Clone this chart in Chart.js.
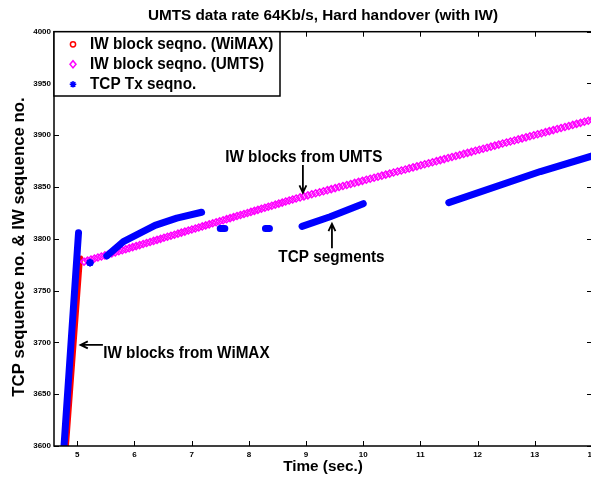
<!DOCTYPE html>
<html><head><meta charset="utf-8">
<script src="https://cdn.jsdelivr.net/npm/chart.js@4/dist/chart.umd.min.js"></script>
<style>
html,body{margin:0;padding:0;background:#fff;overflow:hidden;}
#wrap{position:relative;width:593px;height:480px;}
</style></head><body>
<div id="wrap"><canvas id="c"></canvas></div>
<script>
// ---------- texts ----------
const chartTitle = 'UMTS data rate 64Kb/s, Hard handover (with IW)';
const xAxisTitle = 'Time (sec.)';
const yAxisTitle = 'TCP sequence no. & IW sequence no.';
const seriesNames = ['IW block seqno. (WiMAX)', 'IW block seqno. (UMTS)', 'TCP Tx seqno.'];
const noteTexts = ['IW blocks from UMTS', 'TCP segments', 'IW blocks from WiMAX'];

// ---------- axes ----------
const xTicks = [5, 6, 7, 8, 9, 10, 11, 12, 13, 14];
const yTicks = [3600, 3650, 3700, 3750, 3800, 3850, 3900, 3950, 4000];
const xRange = [4.593, 14];
const yRange = [3600, 4000];

// ---------- data ----------
// IW blocks over WiMAX (dense circle markers -> drawn as a thick line)
const wimaxTime = [4.820, 5.065];
const wimaxSeq = [3600, 3782];

// IW blocks over UMTS (one diamond per block)
const umtsTime = [
  5.118,5.179,5.240,5.300,5.361,5.422,5.483,5.544,5.604,5.665,
  5.726,5.787,5.848,5.908,5.969,6.030,6.091,6.152,6.212,6.273,
  6.334,6.395,6.456,6.516,6.577,6.638,6.699,6.760,6.820,6.881,
  6.942,7.003,7.064,7.124,7.185,7.246,7.307,7.368,7.428,7.489,
  7.550,7.611,7.672,7.732,7.793,7.854,7.915,7.976,8.036,8.097,
  8.158,8.219,8.280,8.340,8.401,8.462,8.523,8.584,8.644,8.705,
  8.766,8.827,
  8.896,8.964,9.032,9.100,9.168,9.237,9.305,9.373,9.441,9.509,
  9.577,9.645,9.713,9.781,9.849,9.918,9.986,10.054,10.122,10.190,
  10.258,10.326,10.394,10.462,10.530,10.599,10.667,10.735,10.803,10.871,
  10.939,11.007,11.075,11.143,11.211,11.280,11.348,11.416,11.484,11.552,
  11.620,11.688,11.756,11.824,11.892,11.961,12.029,12.097,12.165,12.233,
  12.301,12.369,12.437,12.505,12.573,12.642,12.710,12.778,12.846,12.914,
  12.982,13.050,13.118,13.186,13.254,13.323,13.391,13.459,13.527,13.595,
  13.663,13.731,13.799,13.867,13.935,14.004
];
const umtsSeq = [
  3778,3779,3780,3781,3782,3783,3784,3785,3786,3787,
  3788,3789,3790,3791,3792,3793,3794,3795,3796,3797,
  3798,3799,3800,3801,3802,3803,3804,3805,3806,3807,
  3808,3809,3810,3811,3812,3813,3814,3815,3816,3817,
  3818,3819,3820,3821,3822,3823,3824,3825,3826,3827,
  3828,3829,3830,3831,3832,3833,3834,3835,3836,3837,
  3838,3839,
  3840,3841,3842,3843,3844,3845,3846,3847,3848,3849,
  3850,3851,3852,3853,3854,3855,3856,3857,3858,3859,
  3860,3861,3862,3863,3864,3865,3866,3867,3868,3869,
  3870,3871,3872,3873,3874,3875,3876,3877,3878,3879,
  3880,3881,3882,3883,3884,3885,3886,3887,3888,3889,
  3890,3891,3892,3893,3894,3895,3896,3897,3898,3899,
  3900,3901,3902,3903,3904,3905,3906,3907,3908,3909,
  3910,3911,3912,3913,3914,3915
];

// TCP transmitted segments (dense asterisks -> thick line runs, null = gap)
const tcpTime = [4.768, 5.022, null, 5.223, null, 5.517, 5.806, 6.360, 6.740, 7.174, null,
                 7.50, 7.58, null, 8.29, 8.36, null, 8.93, 9.422, 10.00, null, 11.496, 13.097, 14.03];
const tcpSeq  = [3600, 3806, null, 3777, null, 3783.5, 3797.3, 3813, 3820, 3825.7, null,
                 3810, 3810, null, 3810, 3810, null, 3812, 3821.4, 3834, null, 3835, 3865, 3880.5];

// ---------- annotation placement (data coordinates) ----------
const noteLayout = [
  {tx: 8.96,  ty: 3874.5, align: 'center', from: [8.945, 3871.4], to: [8.945, 3844.6]},
  {tx: 9.445, ty: 3778.0, align: 'center', from: [9.453, 3790.9], to: [9.453, 3814.4]},
  {tx: 5.453, ty: 3685.4, align: 'left',   from: [5.448, 3697.6], to: [5.058, 3697.6]}
];

const FONT = '"Liberation Sans", Arial, Helvetica, sans-serif';
const colors = ['#ff0000', '#ff00ff', '#0000ff'];
const TEXT_STRETCH = 1.12;

const toXY = (xs, ys) => xs.map((v, i) => ({x: v === null ? NaN : v, y: ys[i] === null ? NaN : ys[i]}));

function isIsolated(i) {
  const prev = i > 0 ? tcpSeq[i - 1] : null;
  const next = i < tcpSeq.length - 1 ? tcpSeq[i + 1] : null;
  return tcpSeq[i] !== null && prev === null && next === null;
}

function drawArrow(ctx, x1, y1, x2, y2) {
  const ang = Math.atan2(y2 - y1, x2 - x1);
  const hl = 8, ha = 0.45;
  ctx.beginPath();
  ctx.moveTo(x1, y1); ctx.lineTo(x2, y2);
  ctx.moveTo(x2 - hl * Math.cos(ang - ha), y2 - hl * Math.sin(ang - ha));
  ctx.lineTo(x2, y2);
  ctx.lineTo(x2 - hl * Math.cos(ang + ha), y2 - hl * Math.sin(ang + ha));
  ctx.stroke();
}

function stretchedText(ctx, text, px, py) {
  ctx.save();
  ctx.translate(px, py);
  ctx.scale(1, TEXT_STRETCH);
  ctx.fillText(text, 0, 0);
  ctx.restore();
}

const matlabFrame = {
  id: 'matlabFrame',
  afterDraw(chart) {
    const {ctx, chartArea: a, scales: {x, y}} = chart;
    ctx.save();
    // inward tick marks on all four sides
    ctx.strokeStyle = '#000';
    ctx.lineWidth = 1;
    ctx.beginPath();
    xTicks.forEach(v => {
      const p = Math.round(x.getPixelForValue(v)) + 0.5;
      ctx.moveTo(p, a.bottom); ctx.lineTo(p, a.bottom - 5);
      ctx.moveTo(p, a.top); ctx.lineTo(p, a.top + 5);
    });
    yTicks.forEach(v => {
      const p = Math.round(y.getPixelForValue(v)) + 0.5;
      ctx.moveTo(a.left, p); ctx.lineTo(a.left + 5, p);
      ctx.moveTo(a.right, p); ctx.lineTo(a.right - 5, p);
    });
    ctx.stroke();
    // box
    ctx.lineWidth = 1.5;
    ctx.strokeRect(a.left, a.top, a.right - a.left, a.bottom - a.top);

    // legend box (top-left inside axes)
    const lw = 226, lh = 64.3;
    ctx.fillStyle = '#fff';
    ctx.fillRect(a.left, a.top, lw, lh);
    ctx.strokeRect(a.left, a.top, lw, lh);
    ctx.font = 'bold 15.3px ' + FONT;
    ctx.textAlign = 'left';
    ctx.textBaseline = 'middle';
    chart.data.datasets.forEach((ds, i) => {
      const cy = a.top + 12.6 + i * 20;
      const cx = a.left + 19;
      ctx.strokeStyle = colors[i];
      ctx.lineWidth = 1.5;
      ctx.beginPath();
      if (i === 0) {
        ctx.arc(cx, cy, 2.6, 0, Math.PI * 2);
      } else if (i === 1) {
        ctx.moveTo(cx - 3, cy); ctx.lineTo(cx, cy - 3.6); ctx.lineTo(cx + 3, cy); ctx.lineTo(cx, cy + 3.6); ctx.closePath();
      } else {
        const r = 3.3;
        for (let k = 0; k < 4; k++) {
          const t = k * Math.PI / 4;
          ctx.moveTo(cx - r * Math.cos(t), cy - r * Math.sin(t));
          ctx.lineTo(cx + r * Math.cos(t), cy + r * Math.sin(t));
        }
      }
      ctx.stroke();
      ctx.fillStyle = '#000';
      stretchedText(ctx, ds.label, a.left + 36, cy);
    });

    // annotations with arrows
    ctx.fillStyle = '#000';
    ctx.strokeStyle = '#000';
    ctx.lineWidth = 1.8;
    ctx.textBaseline = 'alphabetic';
    noteLayout.forEach((n, i) => {
      ctx.textAlign = n.align;
      stretchedText(ctx, noteTexts[i], x.getPixelForValue(n.tx), y.getPixelForValue(n.ty));
      drawArrow(ctx, x.getPixelForValue(n.from[0]), y.getPixelForValue(n.from[1]),
                     x.getPixelForValue(n.to[0]), y.getPixelForValue(n.to[1]));
    });

    // y-axis title
    ctx.save();
    ctx.translate(19, 247);
    ctx.rotate(-Math.PI / 2);
    ctx.font = 'bold 16.8px ' + FONT;
    ctx.textAlign = 'center';
    ctx.textBaseline = 'middle';
    ctx.fillText(yAxisTitle, 0, 0);
    ctx.restore();
    ctx.restore();
  }
};

Chart.defaults.font.family = FONT;
Chart.defaults.color = '#000';

new Chart(document.getElementById('c'), {
  type: 'scatter',
  data: {
    datasets: [
      {
        label: seriesNames[0],
        data: toXY(wimaxTime, wimaxSeq),
        showLine: true,
        borderColor: colors[0],
        borderWidth: 4,
        borderCapStyle: 'round',
        pointRadius: 0,
        order: 3
      },
      {
        label: seriesNames[1],
        data: toXY(umtsTime, umtsSeq),
        showLine: false,
        pointStyle: 'rectRot',
        pointRadius: 3.5,
        pointBorderWidth: 1.5,
        pointBorderColor: colors[1],
        pointBackgroundColor: 'rgba(255,255,255,0)',
        borderColor: colors[1],
        order: 2
      },
      {
        label: seriesNames[2],
        data: toXY(tcpTime, tcpSeq),
        showLine: true,
        spanGaps: false,
        borderColor: colors[2],
        borderWidth: 7,
        borderCapStyle: 'round',
        borderJoinStyle: 'round',
        pointStyle: 'star',
        pointRadius: c => isIsolated(c.dataIndex) ? 3.8 : 0,
        pointBorderWidth: 2,
        pointBorderColor: colors[2],
        order: 1
      }
    ]
  },
  options: {
    responsive: true,
    maintainAspectRatio: false,
    animation: false,
    events: [],
    layout: {autoPadding: false, padding: {left: 0, right: 1, top: 0, bottom: 0}},
    plugins: {
      legend: {display: false},
      tooltip: {enabled: false},
      title: {
        display: true,
        text: chartTitle,
        fullSize: false,
        color: '#000',
        font: {size: 15.3, weight: 'bold', family: FONT},
        padding: {top: 6.5, bottom: 6.84}
      }
    },
    scales: {
      x: {
        type: 'linear',
        position: 'bottom',
        min: xRange[0],
        max: xRange[1],
        afterBuildTicks: s => { s.ticks = xTicks.map(v => ({value: v})); },
        afterFit: s => { s.height = 34; s.paddingLeft = 0; s.paddingRight = 0; },
        grid: {display: false, drawTicks: false},
        border: {display: false},
        ticks: {autoSkip: false, maxRotation: 0, padding: 4, color: '#000',
                font: {size: 8, weight: 'bold', family: FONT},
                callback: v => String(v)},
        title: {display: true, text: xAxisTitle, color: '#000',
                font: {size: 15.3, weight: 'bold', family: FONT},
                padding: {top: 0, bottom: 3.8}}
      },
      y: {
        type: 'linear',
        position: 'left',
        min: yRange[0],
        max: yRange[1],
        afterBuildTicks: s => { s.ticks = yTicks.map(v => ({value: v})); },
        afterFit: s => { s.width = 54; s.paddingTop = 0; s.paddingBottom = 0; },
        grid: {display: false, drawTicks: false},
        border: {display: false},
        ticks: {autoSkip: false, padding: 3, color: '#000',
                font: {size: 8, weight: 'bold', family: FONT},
                callback: v => String(v)},
        title: {display: false}
      }
    }
  },
  plugins: [matlabFrame]
});
</script>
</body></html>
